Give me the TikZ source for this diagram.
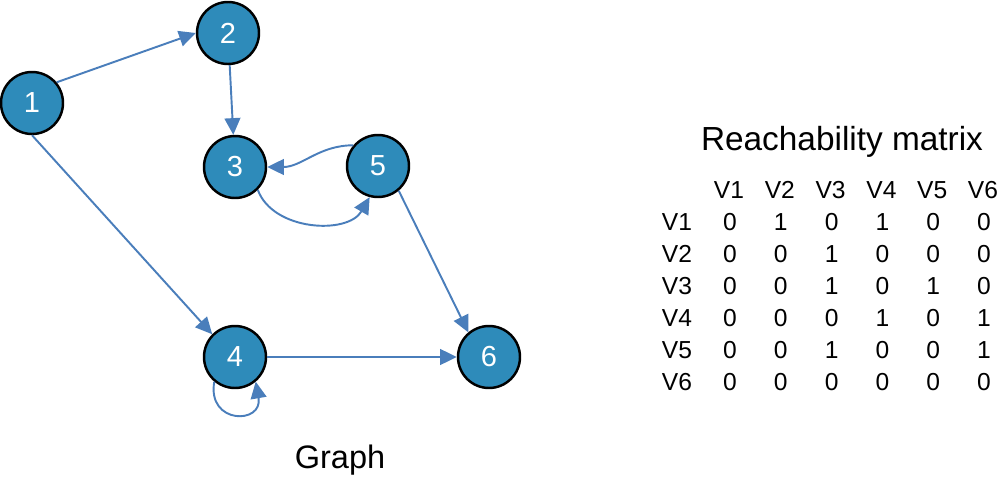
\documentclass[tikz,border=0pt]{standalone}
\usepackage{fontspec}
\setmainfont{Liberation Sans}
\usetikzlibrary{arrows.meta}
\definecolor{vertexfill}{RGB}{46,139,186}
\definecolor{edgeblue}{RGB}{74,126,187}

\begin{document}
\begin{tikzpicture}[x=0.02cm, y=-0.02cm,
	vertex/.style={circle, draw=black, line width=1.4pt, fill=vertexfill, minimum size=1.24cm, inner sep=0pt, text=white, font=\fontsize{16.5}{17}\selectfont},
	edge/.style={draw=edgeblue, line width=1.1pt, -{Triangle[length=9.5pt, width=9pt]}},
	cell/.style={font=\fontsize{14}{15}\selectfont},
	caption/.style={font=\fontsize{19}{20}\selectfont, anchor=base}]
	\useasboundingbox (0,0) rectangle (998,480);
	% Vertices:
	\node[vertex] (v1) at (32, 103) {1};
	\node[vertex] (v2) at (228, 33) {2};
	\node[vertex] (v3) at (235, 167) {3};
	\node[vertex] (v5) at (378, 166) {5};
	\node[vertex] (v4) at (235, 357) {4};
	\node[vertex] (v6) at (489, 357) {6};
	% Edges:
	\draw[edge] (v1.40) -- (v2.west);
	\draw[edge] (v2) -- (v3);
	\draw[edge] (v1.south) -- (v4.135);
	\draw[edge] (v5.-50) -- (v6.130);
	\draw[edge] (v4) -- (v6);
	\draw[edge] (v5.140) to[out=180, in=0] (v3.east);
	\draw[edge] (v3.-45) to[out=-70, in=-120] (v5.-105);
	\draw[edge] (v4.-130) to[out=-100, in=-80, looseness=2.7] (v4.-50);
	\node[caption, font=\fontsize{18.5}{19}\selectfont] (graph) at (340, 468) {Graph};
	% Reachability matrix:
	\node[caption] (title) at (842, 150) {Reachability matrix};
	\foreach \j in {1,...,6}
		\node[cell] (col\j) at ({729+50.8*(\j-1)}, 190) {V\j};
	\foreach \row [count=\i] in {{0,1,0,1,0,0},{0,0,1,0,0,0},{0,0,1,0,1,0},{0,0,0,1,0,1},{0,0,1,0,0,1},{0,0,0,0,0,0}} {
		\node[cell] (row\i) at (677, {222+32*(\i-1)}) {V\i};
		\foreach \v [count=\j] in \row
			\node[cell] (m\i\j) at ({730+50.8*(\j-1)}, {222+32*(\i-1)}) {\v};
	}
\end{tikzpicture}
\end{document}
